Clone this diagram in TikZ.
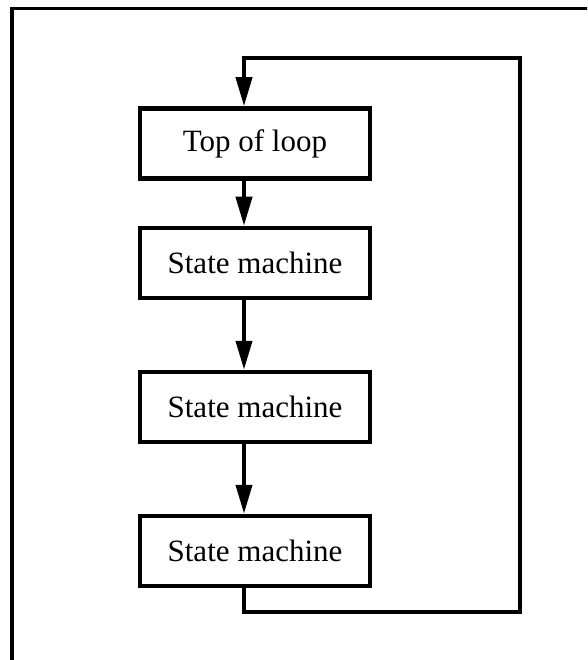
\documentclass[tikz,border=0pt]{standalone}
\usepackage{fontspec}
\setmainfont{Liberation Serif}
\usetikzlibrary{arrows.meta}

\begin{document}
\begin{tikzpicture}[x = 1pt, y = -1pt, line width = 4pt,
                      box/.style = {rectangle, draw, line width = 4.5pt, minimum width = 230pt, minimum height = 70pt, inner sep = 0pt, font = \fontsize{31}{36}\selectfont},
                      flow/.style = {-{Triangle[length = 29pt, width = 16pt]}}]
    \clip (0, 0) rectangle (587, 660);
    \draw [line width = 3.5pt] (12, 700) -- (12, 8.5) -- (620, 8.5);
    \node [box] (a) at (255, 143.5){Top of loop};
    \node [box] (b) at (255, 263){State machine};
    \node [box] (c) at (255, 407){State machine};
    \node [box] (d) at (255, 551){State machine};
    \coordinate (p) at (244, 612);
    \coordinate (q) at (520, 612);
    \coordinate (r) at (520, 58);
    \coordinate (s) at (244, 58);
    \draw [flow] ([xshift = -11pt]a.south) -- ([xshift = -11pt]b.north);
    \draw [flow] ([xshift = -11pt]b.south) -- ([xshift = -11pt]c.north);
    \draw [flow] ([xshift = -11pt]c.south) -- ([xshift = -11pt]d.north);
    \draw [flow] ([xshift = -11pt]d.south) -- (p) -- (q) -- (r) -- (s) -- ([xshift = -11pt]a.north);
    \end{tikzpicture}
\end{document}
